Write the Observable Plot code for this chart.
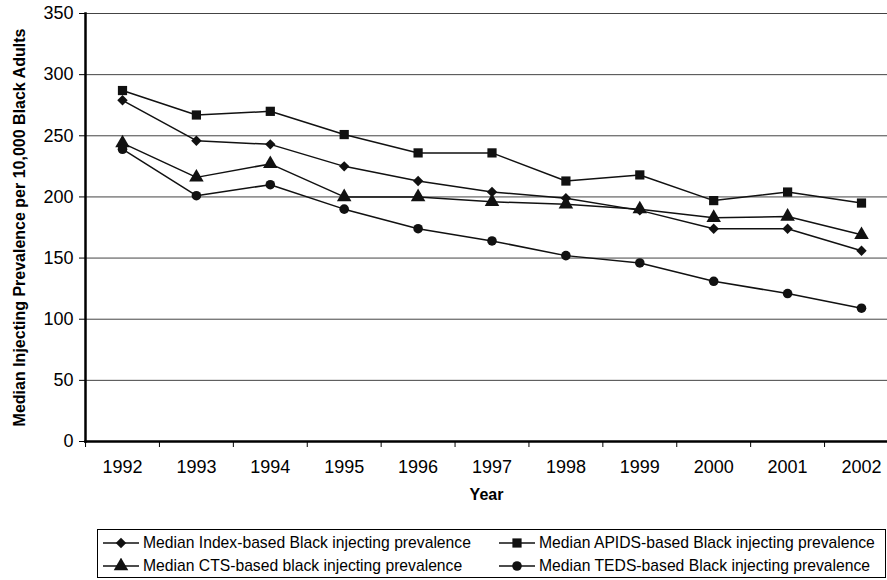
<!DOCTYPE html>
<html><head><meta charset="utf-8">
<script src="https://cdn.jsdelivr.net/npm/d3@7"></script>
<script src="https://cdn.jsdelivr.net/npm/@observablehq/plot@0.6"></script>
<style>
body{margin:0;background:#fff;font-family:"Liberation Sans",Arial,sans-serif;position:relative;width:887px;height:580px;overflow:hidden;}
#chart{position:absolute;left:0;top:0;}
#legend{position:absolute;left:97px;top:529px;width:789px;height:49px;border:1.5px solid #000;box-sizing:border-box;font-size:15.7px;color:#000;}
.item{position:absolute;display:flex;align-items:center;white-space:nowrap;}
.item svg{margin-right:3px;}
</style></head><body>
<div id="chart"></div>
<div id="legend"></div>
<script>
const years = [1992, 1993, 1994, 1995, 1996, 1997, 1998, 1999, 2000, 2001, 2002];
const seriesNames = [
  "Median Index-based Black injecting prevalence",
  "Median APIDS-based Black injecting prevalence",
  "Median CTS-based black injecting prevalence",
  "Median TEDS-based Black injecting prevalence"
];
const indexVals = [279, 246, 243, 225, 213, 204, 199, 189, 174, 174, 156];
const apidsVals = [287, 267, 270, 251, 236, 236, 213, 218, 197, 204, 195];
const ctsVals   = [244, 216, 227, 200, 200, 196, 194, 190, 183, 184, 169];
const tedsVals  = [239, 201, 210, 190, 174, 164, 152, 146, 131, 121, 109];
const yTicks = [0, 50, 100, 150, 200, 250, 300, 350];
const gridVals = [50, 100, 150, 200, 250, 300, 350];

const seriesValues = [indexVals, apidsVals, ctsVals, tedsVals];
const symbols = ["diamond2", "square", "triangle", "circle"];
const radii = [4.7, 5.2, 5.4, 4.8];

const rows = [];
seriesNames.forEach((s, i) => years.forEach((y, j) => rows.push({series: s, year: y, value: seriesValues[i][j]})));

const font = "Liberation Sans, Arial, sans-serif";
const chart = Plot.plot({
  width: 887,
  height: 510,
  marginTop: 13,
  marginBottom: 69,
  marginLeft: 85,
  marginRight: 0,
  style: {fontFamily: font, fontSize: "18px", color: "#000", background: "#fff"},
  x: {type: "linear", domain: [1992, 2002], range: [122, 861]},
  y: {domain: [0, 350]},
  marks: [
    Plot.ruleY(gridVals, {stroke: "#444", strokeWidth: 1}),
    Plot.line(rows, {x: "year", y: "value", z: "series", stroke: "#111", strokeWidth: 1.5}),
    ...seriesNames.map((s, i) => Plot.dot(rows.filter(d => d.series === s), {
      x: "year", y: "value", symbol: () => symbols[i], fill: "#111", stroke: "none", r: radii[i]
    })),
    Plot.frame({anchor: "left", stroke: "#000", strokeWidth: 2.5}),
    Plot.frame({anchor: "bottom", stroke: "#000", strokeWidth: 2.5}),
    Plot.axisY({ticks: yTicks, tickSize: 6, tickPadding: 6, fontSize: 18, label: null, tickFormat: d => String(d)}),
    Plot.axisY({ticks: [], label: "Median Injecting Prevalence per 10,000 Black Adults", labelAnchor: "center", labelOffset: 72, labelArrow: "none", fontSize: 16, fontWeight: "bold"}),
    Plot.axisX({ticks: d3.range(1991.5, 2002, 1), tickSize: 6, tickFormat: () => "", label: null}),
    Plot.axisX({ticks: years, tickSize: 0, tickPadding: 19, fontSize: 18, tickFormat: d => String(d), label: null}),
    Plot.axisX({ticks: [], label: "Year", labelAnchor: "center", labelOffset: 58, labelArrow: "none", fontSize: 16, fontWeight: "bold"})
  ]
});
document.getElementById("chart").append(chart);

// legend
const legend = d3.select("#legend");
const pos = [[4, 13], [400, 13], [4, 36], [400, 36]];
const symMap = {diamond2: d3.symbolDiamond2, square: d3.symbolSquare, triangle: d3.symbolTriangle, circle: d3.symbolCircle};
seriesNames.forEach((s, i) => {
  const item = legend.append("div").attr("class", "item")
    .style("left", pos[i][0] + "px").style("top", (pos[i][1] - 10) + "px").style("height", "20px");
  const sw = item.append("svg").attr("width", 38).attr("height", 16);
  sw.append("line").attr("x1", 1).attr("x2", 37).attr("y1", 8).attr("y2", 8).attr("stroke", "#111").attr("stroke-width", 1.5);
  sw.append("path").attr("transform", "translate(19,8)")
    .attr("d", d3.symbol(symMap[symbols[i]], Math.PI * radii[i] * radii[i])())
    .attr("fill", "#111");
  item.append("span").text(s);
});
</script>
</body></html>
